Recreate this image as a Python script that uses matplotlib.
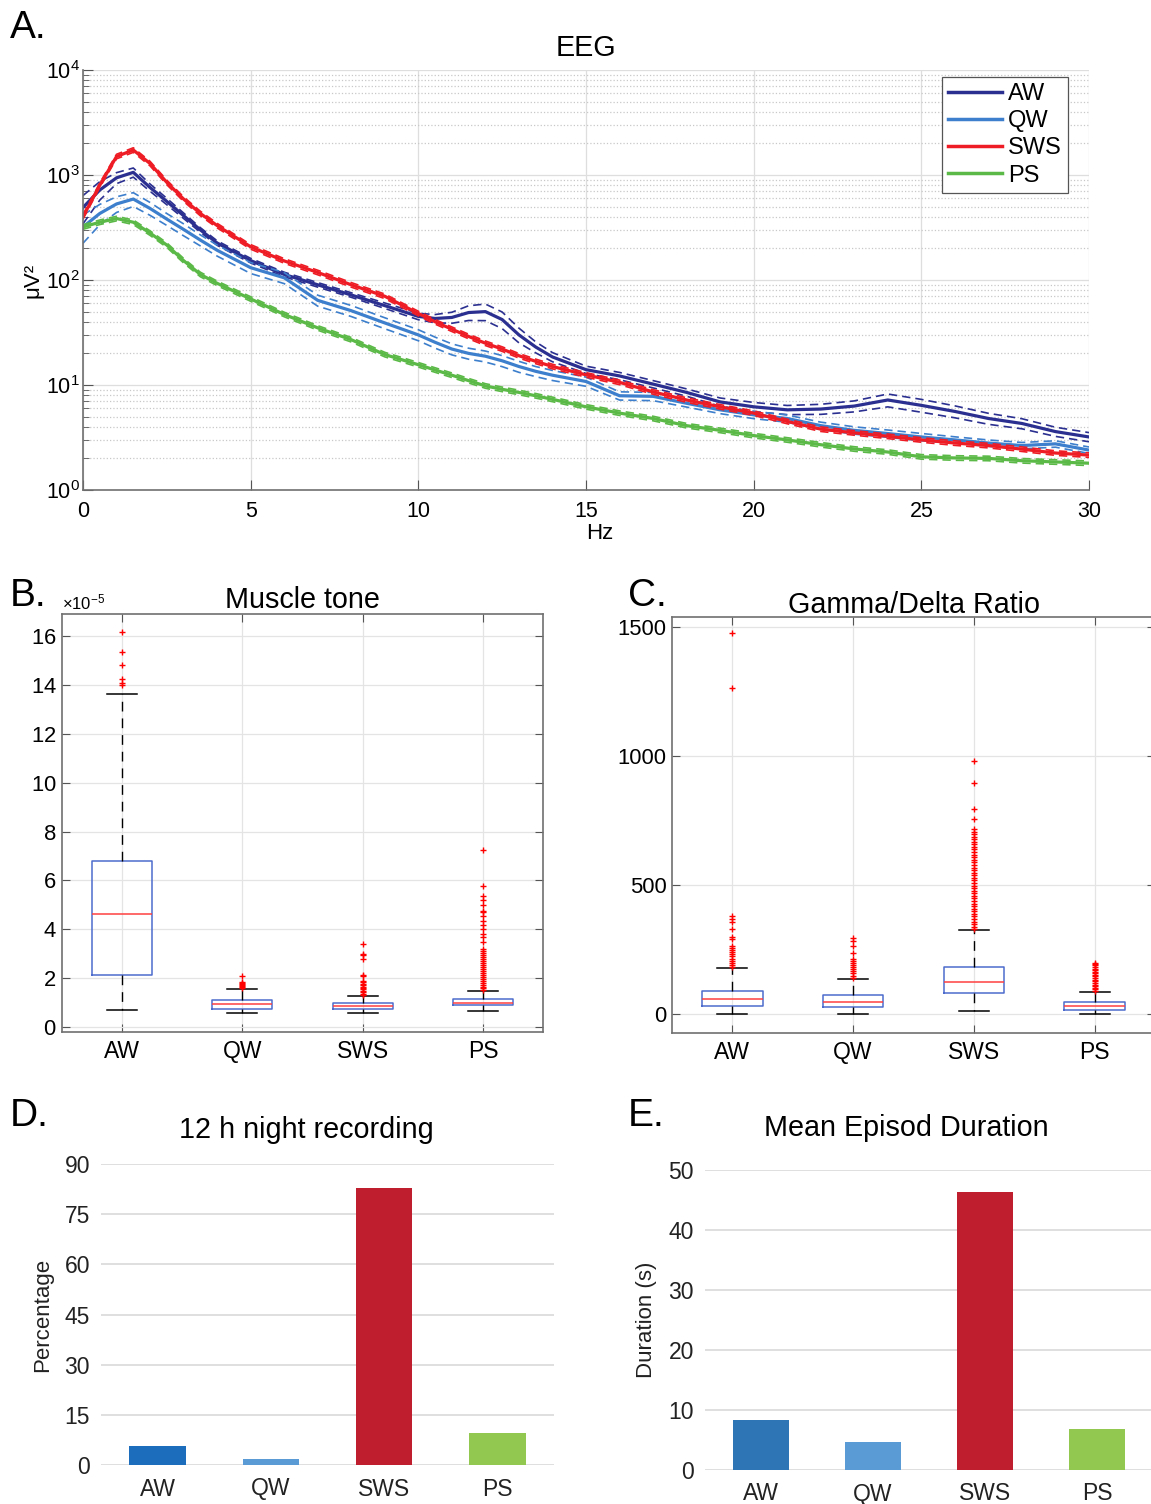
import matplotlib.pyplot as plt
from matplotlib.ticker import ScalarFormatter, LogLocator, NullFormatter

plt.rcParams['font.family'] = ['Liberation Sans', 'DejaVu Sans']
plt.rcParams['mathtext.default'] = 'regular'

states = ['AW', 'QW', 'SWS', 'PS']

# EEG spectra (uV^2) per frequency bin
freqs = [0, 0.5, 1, 1.5, 2, 2.5, 3, 3.5, 4, 5, 6, 7, 8, 9, 10, 10.5, 11, 11.5, 12, 12.5,
         13, 13.5, 14, 15, 16, 17, 18, 19, 20, 21, 22, 23, 24, 25, 26, 27, 28, 29, 30]
aw_power = [490, 720, 940, 1060, 760, 560, 410, 300, 225, 153, 113, 90, 72, 57, 45, 43, 44, 49, 50, 42,
            30, 23, 18.5, 14, 12.2, 10.2, 8.5, 6.9, 6.2, 5.8, 5.9, 6.3, 7.2, 6.4, 5.6, 4.8, 4.3, 3.6, 3.2]
qw_power = [320, 430, 530, 590, 480, 380, 303, 240, 192, 131, 105, 64, 51, 39, 30, 25.5, 22, 20, 18.8, 17,
            15, 13.5, 12.4, 10.8, 7.9, 7.8, 6.7, 5.8, 5.2, 4.8, 4.1, 3.7, 3.45, 3.2, 3.0, 2.8, 2.65, 2.75, 2.4]
sws_power = [400, 800, 1500, 1730, 1285, 850, 590, 430, 330, 207, 152, 118, 90, 70, 48, 40, 34, 29, 25, 22,
             19, 16.8, 15, 12.5, 10.6, 8.6, 7.2, 6.2, 5.4, 4.5, 3.8, 3.5, 3.25, 3.0, 2.8, 2.65, 2.45, 2.25, 2.15]
ps_power = [320, 355, 385, 355, 280, 215, 153, 113, 93, 66, 47, 35, 27, 19.5, 15.6, 13.9, 12.4, 11, 9.8, 9.1,
            8.5, 7.9, 7.3, 6.2, 5.4, 4.8, 4.1, 3.7, 3.3, 3.0, 2.7, 2.46, 2.3, 2.07, 2.02, 2.0, 1.9, 1.85, 1.8]
# relative SEM (fraction of the mean)
aw_sem = [0.3, 0.2, 0.12, 0.1, 0.08, 0.07, 0.06, 0.05, 0.05, 0.05, 0.05, 0.05, 0.05, 0.06, 0.07, 0.09, 0.12,
          0.16, 0.18, 0.18, 0.16, 0.12, 0.1, 0.08, 0.08, 0.08, 0.08, 0.09, 0.1, 0.1, 0.11, 0.12, 0.14, 0.14,
          0.13, 0.12, 0.11, 0.1, 0.1]
qw_sem = [0.3, 0.22, 0.17, 0.15, 0.14, 0.13, 0.13, 0.12, 0.12, 0.12, 0.12, 0.12, 0.12, 0.12, 0.12, 0.12, 0.12,
          0.12, 0.12, 0.12, 0.12, 0.11, 0.11, 0.1, 0.09, 0.09, 0.08, 0.08, 0.08, 0.08, 0.08, 0.08, 0.08, 0.08,
          0.07, 0.07, 0.07, 0.07, 0.07]
sws_sem = 0.05
ps_sem = 0.05

# muscle tone box plots (units of 1e-5)
muscle_scale = 1e-5
muscle_q1 = [2.15, 0.75, 0.75, 0.89]
muscle_med = [4.63, 0.93, 0.86, 0.99]
muscle_q3 = [6.81, 1.09, 0.98, 1.13]
muscle_lo = [0.72, 0.59, 0.59, 0.64]
muscle_hi = [13.62, 1.54, 1.27, 1.47]
muscle_fliers = [
    [13.99, 14.07, 14.26, 14.8, 15.35, 16.18],
    [1.6, 1.64, 1.68, 1.72, 1.76, 1.8, 1.84, 2.08],
    [1.3, 1.36, 1.42, 1.48, 1.54, 1.6, 1.66, 1.72, 1.78, 1.84, 1.9, 2.08, 2.15, 2.8, 2.93, 3.0, 3.38],
    [1.5, 1.58, 1.66, 1.74, 1.82, 1.9, 1.98, 2.06, 2.14, 2.22, 2.3, 2.38, 2.46, 2.54, 2.62, 2.7, 2.78,
     2.86, 2.94, 3.02, 3.1, 3.18, 3.47, 3.68, 3.81, 4.02, 4.16, 4.36, 4.56, 4.7, 4.77, 5.0, 5.18, 5.35,
     5.79, 7.26],
]

# gamma/delta ratio box plots
gd_q1 = [32, 27, 81, 17]
gd_med = [56, 45, 124, 30]
gd_q3 = [90, 72, 181, 45]
gd_lo = [0, 1, 10, 1]
gd_hi = [178, 137, 325, 87]
gd_fliers = [
    [182, 190, 199, 207, 215, 223, 231, 239, 247, 255, 263, 292, 300, 328, 357, 370, 378, 1265, 1477],
    [141, 149, 157, 165, 173, 181, 189, 197, 205, 212, 238, 263, 283, 293],
    [328, 338, 348, 358, 368, 378, 388, 398, 408, 418, 428, 438, 448, 458, 468, 478, 488, 498, 508, 518,
     528, 538, 548, 558, 568, 578, 588, 598, 608, 618, 628, 638, 648, 658, 668, 678, 688, 698, 705, 716,
     758, 795, 895, 982],
    [90, 96, 102, 108, 114, 120, 126, 132, 138, 146, 152, 158, 164, 170, 176, 182, 188, 193, 198],
]

# 12 h night recording and mean episode duration
night_pct = [5.7, 1.8, 82.7, 9.45]
episode_dur = [8.33, 4.72, 46.4, 6.83]

eeg_colors = ['#2b3090', '#3d7fcc', '#ee1c24', '#5bb947']
bar_colors_d = ['#1c6ebd', '#5b9bd5', '#be1e2d', '#92c850']
bar_colors_e = ['#2e75b6', '#5b9bd5', '#be1e2d', '#92c850']

W, H = 1151, 1504
TITLE_SIZE = 20.7


def rect(l, t, r, b):
    return [l / W, 1 - b / H, (r - l) / W, (b - t) / H]


def boxstats(q1, med, q3, lo, hi, fliers, scale=1.0):
    out = []
    for i in range(len(q1)):
        out.append({'q1': q1[i] * scale, 'med': med[i] * scale, 'q3': q3[i] * scale,
                    'whislo': lo[i] * scale, 'whishi': hi[i] * scale,
                    'fliers': [f * scale for f in fliers[i]]})
    return out


def draw_box(ax, stats):
    ax.bxp(stats, positions=[1, 2, 3, 4], widths=0.5, capwidths=0.25,
           boxprops=dict(color='#4d6bcc', lw=1.1),
           medianprops=dict(color='#ff4040', lw=1.1),
           whiskerprops=dict(color='black', lw=1.0, ls=(0, (7, 5))),
           capprops=dict(color='black', lw=1.1),
           flierprops=dict(marker='+', markeredgecolor='red', markersize=5, markeredgewidth=1.0, ls='none'))
    ax.set_xlim(0.5, 4.5)
    ax.set_xticks([1, 2, 3, 4])
    ax.set_xticklabels(states, fontsize=16.5)
    ax.tick_params(axis='both', direction='in', top=True, right=True, length=6, color='#555555')
    ax.tick_params(axis='y', labelsize=15.8, pad=4)
    ax.tick_params(axis='x', pad=6)
    ax.grid(True, color='#e4e4e4', lw=0.9)
    ax.set_axisbelow(True)
    for s in ax.spines.values():
        s.set_color('#707070')
        s.set_linewidth(1.2)


fig = plt.figure(figsize=(W / 100, H / 100), dpi=100)

# ---- A. EEG spectra
axA = fig.add_axes(rect(83, 70, 1089, 490))
series = [(aw_power, aw_sem), (qw_power, qw_sem), (sws_power, sws_sem), (ps_power, ps_sem)]
for (vals, sem), col, name in zip(series, eeg_colors, states):
    if isinstance(sem, float):
        sem = [sem] * len(vals)
    up = [v * (1 + s) for v, s in zip(vals, sem)]
    lo = [v * (1 - s) for v, s in zip(vals, sem)]
    axA.plot(freqs, up, color=col, lw=1.2, dashes=(5, 3))
    axA.plot(freqs, lo, color=col, lw=1.2, dashes=(5, 3))
    axA.plot(freqs, vals, color=col, lw=2.3, label=name)
axA.set_yscale('log')
axA.set_ylim(1, 1e4)
axA.set_xlim(0, 30)
axA.set_xticks(range(0, 31, 5))
axA.yaxis.set_minor_locator(LogLocator(base=10, subs=range(2, 10), numticks=20))
axA.yaxis.set_minor_formatter(NullFormatter())
axA.grid(which='major', color='#dedede', lw=0.9)
axA.grid(which='minor', axis='y', color='#c8c8c8', ls=':', lw=0.9)
axA.tick_params(which='both', direction='in', color='#555555', labelsize=15.5)
axA.tick_params(which='major', length=7)
axA.tick_params(which='minor', length=4)
axA.tick_params(axis='x', pad=8)
axA.tick_params(axis='y', pad=2)
axA.spines['top'].set_visible(False)
axA.spines['right'].set_visible(False)
for s in ('left', 'bottom'):
    axA.spines[s].set_color('#707070')
    axA.spines[s].set_linewidth(1.2)
axA.set_title('EEG', fontsize=TITLE_SIZE, pad=10)
axA.set_xlabel('Hz', fontsize=16)
axA.xaxis.set_label_coords(0.514, -0.078)
axA.set_ylabel('μV²', fontsize=16, labelpad=2)
leg = axA.legend(loc='upper right', bbox_to_anchor=(0.979, 0.983), borderaxespad=0, fontsize=17,
                 handlelength=2.3, handletextpad=0.25, labelspacing=0.22, borderpad=0.25,
                 fancybox=False, framealpha=1)
leg.get_frame().set_edgecolor('#555555')
leg.get_frame().set_linewidth(0.9)
for ln in leg.get_lines():
    ln.set_linewidth(2.5)

# ---- B. muscle tone
axB = fig.add_axes(rect(62, 614, 543, 1032))
draw_box(axB, boxstats(muscle_q1, muscle_med, muscle_q3, muscle_lo, muscle_hi, muscle_fliers, muscle_scale))
axB.set_ylim(-0.2 * muscle_scale, 16.9 * muscle_scale)
axB.set_yticks([v * muscle_scale for v in range(0, 17, 2)])
fmt = ScalarFormatter(useMathText=True)
fmt.set_powerlimits((-5, -5))
axB.yaxis.set_major_formatter(fmt)
axB.yaxis.get_offset_text().set_fontsize(12)
axB.set_title('Muscle tone', fontsize=TITLE_SIZE, pad=4)

# ---- C. gamma/delta ratio
axC = fig.add_axes(rect(672, 617, 1155, 1033))
draw_box(axC, boxstats(gd_q1, gd_med, gd_q3, gd_lo, gd_hi, gd_fliers))
axC.set_ylim(-74, 1540)
axC.set_yticks([0, 500, 1000, 1500])
axC.set_title('Gamma/Delta Ratio', fontsize=TITLE_SIZE, pad=3)


def draw_bars(ax, vals, colors, ymax, step, ylabel):
    ax.bar(range(4), vals, width=0.5, color=colors, zorder=3)
    ax.set_xlim(-0.5, 3.5)
    ax.set_ylim(0, ymax)
    ax.set_yticks(range(0, ymax + 1, step))
    ax.set_xticks(range(4))
    ax.set_xticklabels(states, fontsize=16.5, color='#222222')
    ax.tick_params(axis='both', length=0)
    ax.tick_params(axis='y', labelsize=16.5, pad=8, labelcolor='#222222')
    ax.tick_params(axis='x', pad=9)
    ax.yaxis.grid(True, color='#d9d9d9', lw=1.2)
    ax.set_axisbelow(True)
    for s in ax.spines.values():
        s.set_visible(False)
    ax.set_ylabel(ylabel, fontsize=16, color='#222222', labelpad=8)


# ---- D. 12 h night recording
axD = fig.add_axes(rect(101, 1164, 554, 1465))
draw_bars(axD, night_pct, bar_colors_d, 90, 15, 'Percentage')
fig.text(306 / W, 1 - 1130 / H, '12 h night recording', fontsize=TITLE_SIZE, ha='center', va='center')

# ---- E. mean episode duration
axE = fig.add_axes(rect(705, 1170, 1153, 1470))
draw_bars(axE, episode_dur, bar_colors_e, 50, 10, 'Duration (s)')
fig.text(906 / W, 1 - 1128 / H, 'Mean Episod Duration', fontsize=TITLE_SIZE, ha='center', va='center')

# panel letters
for letter, x, y in [('A.', 10, 28), ('B.', 10, 596), ('C.', 628, 596), ('D.', 10, 1116), ('E.', 628, 1116)]:
    fig.text(x / W, 1 - y / H, letter, fontsize=28, ha='left', va='center')

fig.savefig('out.png', dpi=100)
